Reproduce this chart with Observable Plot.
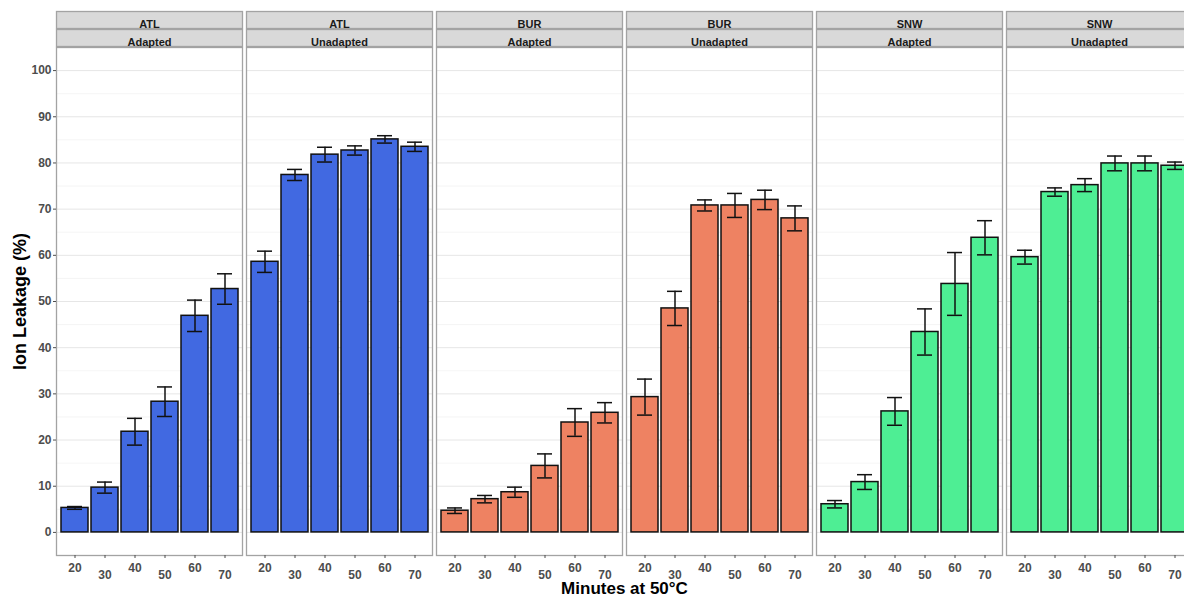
<!DOCTYPE html>
<html><head><meta charset="utf-8">
<script src="https://cdn.jsdelivr.net/npm/d3@7"></script>
<script src="https://cdn.jsdelivr.net/npm/@observablehq/plot@0.6"></script>
<style>html,body{margin:0;padding:0;overflow:hidden;background:#fff;width:1184px;height:596px}</style>
</head><body><div id="chart"></div>
<script>
// ---- data ----
const minutes = [20, 30, 40, 50, 60, 70];
const sites = ["ATL", "BUR", "SNW"];
const adaptations = ["Adapted", "Unadapted"];
const yTicks = [0, 10, 20, 30, 40, 50, 60, 70, 80, 90, 100];
const yMinorTicks = [5, 15, 25, 35, 45, 55, 65, 75, 85, 95];

const atlAdaptedMean   = [5.3, 9.7, 21.8, 28.3, 46.9, 52.7];
const atlAdaptedErr    = [0.3, 1.2, 2.9, 3.2, 3.4, 3.3];
const atlUnadaptedMean = [58.6, 77.4, 81.8, 82.7, 85.1, 83.5];
const atlUnadaptedErr  = [2.3, 1.2, 1.6, 1.0, 0.8, 1.0];
const burAdaptedMean   = [4.7, 7.2, 8.7, 14.4, 23.8, 25.9];
const burAdaptedErr    = [0.6, 0.8, 1.1, 2.6, 3.0, 2.2];
const burUnadaptedMean = [29.3, 48.5, 70.8, 70.8, 72.0, 68.0];
const burUnadaptedErr  = [3.9, 3.7, 1.2, 2.6, 2.1, 2.7];
const snwAdaptedMean   = [6.1, 10.9, 26.2, 43.4, 53.8, 63.8];
const snwAdaptedErr    = [0.8, 1.6, 3.0, 5.0, 6.8, 3.7];
const snwUnadaptedMean = [59.6, 73.7, 75.2, 79.9, 79.9, 79.4];
const snwUnadaptedErr  = [1.5, 0.9, 1.4, 1.6, 1.6, 0.8];

const series = {
  ATL: {Adapted: [atlAdaptedMean, atlAdaptedErr], Unadapted: [atlUnadaptedMean, atlUnadaptedErr]},
  BUR: {Adapted: [burAdaptedMean, burAdaptedErr], Unadapted: [burUnadaptedMean, burUnadaptedErr]},
  SNW: {Adapted: [snwAdaptedMean, snwAdaptedErr], Unadapted: [snwUnadaptedMean, snwUnadaptedErr]}
};

const rows = [];
const panels = [];
for (const s of sites) for (const a of adaptations) {
  const key = s + " " + a;
  panels.push({key, site: s, adaptation: a});
  const [m, e] = series[s][a];
  minutes.forEach((t, i) => rows.push({key, site: s, minutes: t, value: m[i], lo: m[i] - e[i], hi: m[i] + e[i]}));
}

// ---- styles ----
const siteColors = ["#4169E1", "#EE8262", "#4EEE94"];
const font = "'Liberation Sans', Arial, Helvetica, sans-serif";
const border = "#a3a3a3";
const ink = "#111111";
const tickText = "#4d4d4d";

const plot = Plot.plot({
  width: 1200, height: 596,
  marginLeft: 54, marginRight: 6, marginTop: 47, marginBottom: 41,
  style: {fontFamily: font, background: "white", overflow: "visible", maxWidth: "none", width: "1200px", height: "596px"},
  fx: {domain: panels.map(d => d.key), paddingInner: 0.023, paddingOuter: 0, axis: null, label: null},
  x: {type: "band", domain: minutes, paddingInner: 0.1, paddingOuter: 0.15, label: null},
  y: {domain: [-5, 105], label: null},
  color: {domain: sites, range: siteColors},
  marks: [
    Plot.gridY(yMinorTicks, {stroke: "#f1f1f1", strokeOpacity: 1, strokeWidth: 0.7}),
    Plot.gridY(yTicks, {stroke: "#e6e6e6", strokeOpacity: 1, strokeWidth: 1}),
    Plot.barY(rows, {fx: "key", x: "minutes", y: "value", fill: "site", stroke: ink, strokeWidth: 1.5}),
    Plot.ruleX(rows, {fx: "key", x: "minutes", y1: "lo", y2: "hi", stroke: ink, strokeWidth: 1.5}),
    Plot.tickY(rows, {fx: "key", x: "minutes", y: "lo", stroke: ink, strokeWidth: 1.5, insetLeft: 6, insetRight: 6}),
    Plot.tickY(rows, {fx: "key", x: "minutes", y: "hi", stroke: ink, strokeWidth: 1.5, insetLeft: 6, insetRight: 6}),
    Plot.frame({stroke: border, strokeWidth: 1.3}),
    Plot.frame({fill: "#d9d9d9", stroke: border, strokeWidth: 1.3, insetTop: -36, insetBottom: 527}),
    Plot.frame({fill: "#d9d9d9", stroke: border, strokeWidth: 1.3, insetTop: -18, insetBottom: 509}),
    Plot.text(panels, {fx: "key", text: "site", frameAnchor: "top", dy: -27, fontSize: 11, fontWeight: "bold", fill: "#1a1a1a"}),
    Plot.text(panels, {fx: "key", text: "adaptation", frameAnchor: "top", dy: -9, fontSize: 11, fontWeight: "bold", fill: "#1a1a1a"}),
    Plot.axisY(yTicks, {tickSize: 3, tickPadding: 2, fontSize: 12, fontWeight: "bold", color: tickText, label: null}),
    Plot.axisY([], {tickSize: 0, label: "Ion Leakage (%)", labelAnchor: "center", labelArrow: "none", labelOffset: 43, fontSize: 18, fontWeight: "bold", color: "#000"}),
    Plot.axisX(minutes.filter((d, i) => i % 2 === 0), {tickSize: 3, tickPadding: 5, fontSize: 12, fontWeight: "bold", color: tickText, label: null}),
    Plot.axisX(minutes.filter((d, i) => i % 2 === 1), {tickSize: 3, tickPadding: 12, fontSize: 12, fontWeight: "bold", color: tickText, label: null}),
    Plot.axisX([], {tickSize: 0, label: "Minutes at 50°C", labelAnchor: "center", labelArrow: "none", labelOffset: 38, fontSize: 17, fontWeight: "bold", color: "#000"})
  ]
});
document.getElementById("chart").appendChild(plot);
</script>
</body></html>
